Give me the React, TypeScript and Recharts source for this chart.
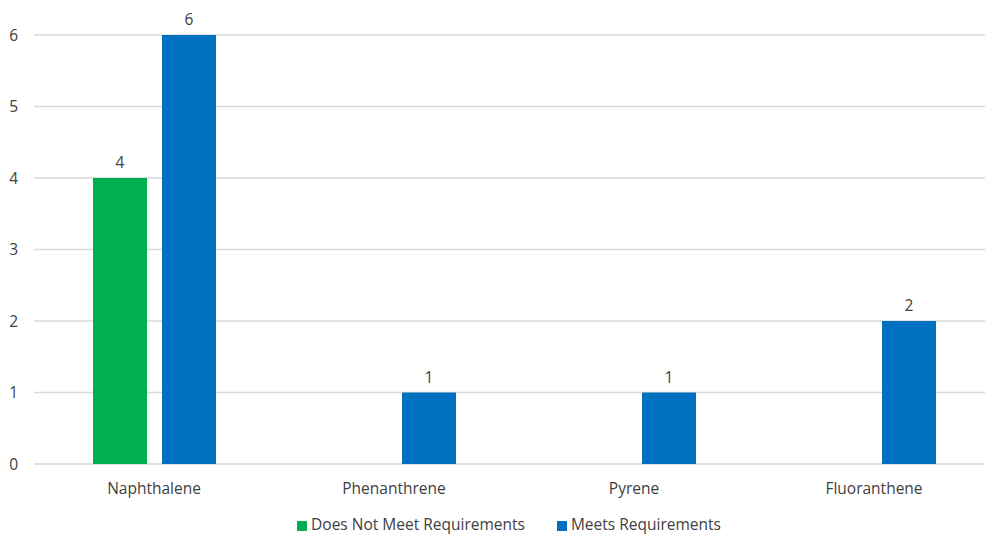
import React from 'react';
import { BarChart, Bar, XAxis, YAxis, CartesianGrid, Legend, LabelList } from 'recharts';

const categories = ['Naphthalene', 'Phenanthrene', 'Pyrene', 'Fluoranthene'];
const doesNotMeet = [4, null, null, null];
const meets = [6, 1, 1, 2];
const yTicks = [0, 1, 2, 3, 4, 5, 6];

const data = categories.map((name, i) => ({ name, notMeet: doesNotMeet[i], meets: meets[i] }));

const FONT = '"Open Sans", "Noto Sans", sans-serif';
const TEXT = '#404040';
const FS = 15.5;

export default function App() {
  return (
    <div style={{ position: 'absolute', left: 0, top: 0, width: 985, height: 535, overflow: 'hidden', background: '#fff', fontFamily: FONT }}>
      <BarChart
        width={1000}
        height={535}
        data={data}
        margin={{ top: 35, right: 6, bottom: 0, left: 0 }}
        barGap={15}
        barSize={54}
      >
        <CartesianGrid vertical={false} stroke="#d9d9d9" strokeWidth={1.5} />
        <XAxis
          dataKey="name"
          axisLine={false}
          tickLine={false}
          tickSize={0}
          tickMargin={19}
          height={49}
          tick={{ fill: TEXT, fontSize: FS, fontFamily: FONT }}
        />
        <YAxis
          width={34}
          domain={[0, 6]}
          ticks={yTicks}
          axisLine={false}
          tickLine={false}
          tickSize={0}
          tickMargin={16}
          tick={{ fill: TEXT, fontSize: FS, fontFamily: FONT }}
        />
        <Legend
          verticalAlign="bottom"
          align="center"
          iconType="square"
          iconSize={10}
          wrapperStyle={{ fontSize: FS, fontFamily: FONT, left: 28 }}
          formatter={(value) => <span style={{ color: TEXT, marginRight: 22 }}>{value}</span>}
        />
        <Bar dataKey="notMeet" name="Does Not Meet Requirements" fill="#00B050" isAnimationActive={false}>
          <LabelList dataKey="notMeet" position="top" offset={10} fill={TEXT} fontSize={FS} fontFamily={FONT} />
        </Bar>
        <Bar dataKey="meets" name="Meets Requirements" fill="#0070C0" isAnimationActive={false}>
          <LabelList dataKey="meets" position="top" offset={10} fill={TEXT} fontSize={FS} fontFamily={FONT} />
        </Bar>
      </BarChart>
    </div>
  );
}
